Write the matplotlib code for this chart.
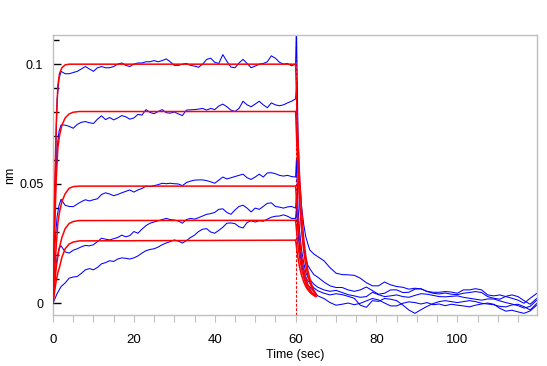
import matplotlib
matplotlib.use("Agg")
import matplotlib.pyplot as plt
from matplotlib.ticker import MultipleLocator

plt.rcParams['font.family'] = ['Liberation Sans', 'DejaVu Sans']

# association phase (0-60 s), one reading per second after the fast rise
t_assoc = [0, 0.5, 1, 1.5] + list(range(2, 61))
assoc1 = [0.001, 0.05, 0.085, 0.094,
          0.097, 0.096, 0.096, 0.0965, 0.097, 0.098, 0.099, 0.098, 0.097, 0.0985,
          0.099, 0.0985, 0.0985, 0.099, 0.1, 0.1005, 0.0995, 0.099, 0.1, 0.1005,
          0.1005, 0.101, 0.101, 0.1015, 0.101, 0.1015, 0.1022, 0.101, 0.0995,
          0.0995, 0.1, 0.1003, 0.0995, 0.0992, 0.0987, 0.1, 0.102, 0.1025, 0.1008,
          0.1003, 0.104, 0.1012, 0.0988, 0.0985, 0.1005, 0.102, 0.1003, 0.0985,
          0.0992, 0.1, 0.1003, 0.101, 0.1035, 0.1025, 0.1008, 0.1, 0.1003, 0.0993, 0.1]
assoc2 = [0.001, 0.04, 0.065, 0.072,
          0.0746, 0.0745, 0.074, 0.0732, 0.0748, 0.0757, 0.076, 0.0755, 0.0752, 0.077,
          0.0784, 0.0768, 0.0777, 0.0767, 0.0775, 0.0785, 0.078, 0.077, 0.0775, 0.079,
          0.0787, 0.081, 0.0798, 0.0793, 0.0802, 0.081, 0.0797, 0.0795, 0.08,
          0.0792, 0.0785, 0.0808, 0.0809, 0.081, 0.0812, 0.0815, 0.0808, 0.0815, 0.081,
          0.0825, 0.0833, 0.0822, 0.0808, 0.0802, 0.0815, 0.0845, 0.083, 0.0822,
          0.0833, 0.0845, 0.083, 0.0818, 0.0838, 0.083, 0.0826, 0.083, 0.0838, 0.0845, 0.0855]
assoc3 = [0.001, 0.025, 0.036, 0.041,
          0.0435, 0.041, 0.0405, 0.0404, 0.0415, 0.0425, 0.0433, 0.0428, 0.0433, 0.0437,
          0.0455, 0.0462, 0.0457, 0.045, 0.0455, 0.0462, 0.0468, 0.0474, 0.0465, 0.0474,
          0.048, 0.049, 0.0488, 0.0492, 0.0496, 0.0502, 0.05, 0.0502, 0.05,
          0.0499, 0.0492, 0.0505, 0.0511, 0.0515, 0.0516, 0.0516, 0.0513, 0.0508, 0.0502,
          0.0515, 0.0528, 0.052, 0.0525, 0.053, 0.0535, 0.054, 0.0525, 0.0518,
          0.0528, 0.054, 0.0528, 0.0545, 0.0546, 0.0542, 0.0535, 0.0532, 0.0535, 0.053, 0.0528]
assoc4 = [0.0, 0.012, 0.019, 0.023,
          0.024, 0.0215, 0.021, 0.0222, 0.0228, 0.0236, 0.0242, 0.024, 0.0245, 0.0258,
          0.0272, 0.0268, 0.0265, 0.027, 0.0275, 0.0285, 0.0278, 0.0283, 0.03, 0.0293,
          0.031, 0.0325, 0.0335, 0.034, 0.0345, 0.035, 0.0355, 0.035, 0.0348,
          0.0344, 0.0335, 0.035, 0.0355, 0.0352, 0.0358, 0.0365, 0.0372, 0.0375, 0.038,
          0.0393, 0.0395, 0.038, 0.0372, 0.039, 0.0405, 0.041, 0.0398, 0.0382,
          0.0398, 0.0393, 0.0405, 0.0418, 0.042, 0.0405, 0.0402, 0.0398, 0.0403, 0.0405, 0.0398]
assoc5 = [0.0, 0.002, 0.004, 0.0055,
          0.007, 0.0085, 0.0105, 0.011, 0.0112, 0.0125, 0.014, 0.0145, 0.014, 0.015,
          0.0165, 0.017, 0.0178, 0.0175, 0.0185, 0.019, 0.0188, 0.0185, 0.019, 0.0198,
          0.021, 0.022, 0.0225, 0.0228, 0.0235, 0.0245, 0.0252, 0.0258, 0.0265,
          0.026, 0.0252, 0.0262, 0.0275, 0.0285, 0.03, 0.031, 0.0312, 0.0298, 0.0293,
          0.0305, 0.0318, 0.0335, 0.0336, 0.0333, 0.032, 0.0315, 0.0338, 0.0345,
          0.034, 0.0345, 0.0343, 0.0352, 0.036, 0.0364, 0.0365, 0.037, 0.0364, 0.0355, 0.0355]

# dissociation phase (60-120 s)
t_dissoc = [60.2, 60.6, 61, 61.5, 62, 62.5, 63, 63.5, 64.5, 65.5,
            67, 68.5, 70, 71.5, 73, 74.5, 76, 77.5, 79, 80.5, 82, 83.5, 85, 86.5,
            88, 89.5, 91, 92.5, 94, 95.5, 97, 98.5, 100, 101.5, 103, 104.5, 106,
            107.5, 109, 110.5, 112, 113.5, 115, 116.5, 118, 119.7]
dissoc1 = [0.116, 0.07, 0.052, 0.04, 0.033, 0.028, 0.025, 0.0223, 0.0206, 0.0195,
           0.0178, 0.0149, 0.0126, 0.012, 0.0119, 0.0117, 0.0105, 0.0086, 0.0073, 0.0073,
           0.0089, 0.0077, 0.007, 0.0067, 0.0059, 0.0063, 0.006, 0.005, 0.0046, 0.0046,
           0.0049, 0.0047, 0.0042, 0.0056, 0.0056, 0.0061, 0.0056, 0.0035, 0.0031, 0.0035,
           0.0028, 0.0021, 0.0013, 0.0, 0.0021, 0.0042]
dissoc2 = [0.09, 0.06, 0.042, 0.03, 0.023, 0.019, 0.016, 0.0145, 0.012, 0.0109,
           0.0089, 0.0073, 0.0066, 0.0066, 0.0056, 0.005, 0.0056, 0.0068, 0.0053, 0.0038,
           0.0042, 0.0056, 0.0056, 0.0045, 0.0046, 0.0059, 0.0061, 0.0049, 0.0042, 0.0039,
           0.0043, 0.0038, 0.0036, 0.0042, 0.0045, 0.0049, 0.0045, 0.0028, 0.0021, 0.0017,
           0.0029, 0.0035, 0.0028, 0.0011, -0.0004, 0.0021]
dissoc3 = [0.06, 0.04, 0.03, 0.022, 0.017, 0.013, 0.011, 0.01, 0.008, 0.0067,
           0.0056, 0.005, 0.0054, 0.0045, 0.0036, 0.0031, 0.0025, 0.0028, 0.0046, 0.0036,
           0.0028, 0.0031, 0.0035, 0.0028, 0.0025, 0.0033, 0.004, 0.0038, 0.0033, 0.0028,
           0.0027, 0.0029, 0.0031, 0.0025, 0.0021, 0.0017, 0.0013, 0.0018, 0.0018, 0.001,
           0.0003, -0.0003, -0.001, -0.002, -0.0013, 0.0014]
dissoc4 = [0.045, 0.032, 0.025, 0.018, 0.014, 0.011, 0.0095, 0.0085, 0.0065, 0.0052,
           0.0042, 0.0035, 0.004, 0.0036, 0.0029, 0.0021, -0.0008, -0.0017, 0.0011, 0.0008,
           0.002, 0.0017, 0.0011, -0.0007, -0.0028, -0.0042, -0.0027, -0.0013, -0.0001, 0.0007,
           0.0011, 0.0007, 0.0003, 0.0007, 0.0011, 0.0007, 0.0, -0.0003, -0.0006, -0.0013,
           -0.0015, -0.0007, -0.0004, -0.0014, -0.0028, 0.0]
dissoc5 = [0.04, 0.03, 0.022, 0.016, 0.012, 0.009, 0.0075, 0.0068, 0.005, 0.0031,
           0.002, 0.0003, -0.0008, -0.0004, 0.0001, -0.0006, 0.0, 0.001, 0.002, 0.0014,
           0.0001, -0.0011, -0.0011, 0.0, 0.0006, 0.0003, -0.0003, 0.0003, -0.0006, -0.0003,
           -0.001, -0.0004, -0.0008, -0.0011, -0.0015, -0.0008, -0.0003, 0.0001, -0.0004, -0.0021,
           -0.0033, -0.0029, -0.0036, -0.0042, -0.0032, -0.0007]

# fitted curves
fit_t_assoc = [0, 0.4, 0.8, 1.2, 1.6, 2.2, 3, 4, 5, 6.5, 60]
fit_assoc1 = [0, 0.045, 0.075, 0.091, 0.096, 0.0985, 0.0997, 0.1, 0.1, 0.1, 0.1]
fit_assoc2 = [0, 0.03, 0.052, 0.065, 0.070, 0.0745, 0.0775, 0.0792, 0.0799, 0.0802, 0.0802]
fit_assoc3 = [0, 0.013, 0.024, 0.0335, 0.038, 0.0425, 0.0458, 0.0481, 0.0488, 0.049, 0.049]
fit_assoc4 = [0, 0.008, 0.015, 0.0198, 0.0233, 0.0275, 0.0312, 0.0334, 0.0342, 0.0346, 0.0347]
fit_assoc5 = [0, 0.005, 0.0095, 0.0128, 0.015, 0.0192, 0.0228, 0.0248, 0.0256, 0.0261, 0.0264]

fit_t_dissoc = [60, 60.5, 61, 61.5, 62, 62.5, 63, 63.5, 64, 64.5, 65]
fit_dissoc1 = [0.1, 0.072, 0.052, 0.038, 0.027, 0.02, 0.014, 0.0105, 0.0075, 0.0055, 0.004]
fit_dissoc2 = [0.0802, 0.058, 0.042, 0.031, 0.022, 0.016, 0.0118, 0.0088, 0.0065, 0.0048, 0.0036]
fit_dissoc3 = [0.049, 0.036, 0.026, 0.019, 0.0142, 0.0105, 0.008, 0.006, 0.0046, 0.0036, 0.003]
fit_dissoc4 = [0.0347, 0.0255, 0.019, 0.0143, 0.011, 0.0083, 0.0064, 0.005, 0.004, 0.0033, 0.0028]
fit_dissoc5 = [0.0264, 0.0198, 0.015, 0.0115, 0.009, 0.007, 0.0057, 0.0047, 0.004, 0.0035, 0.0031]

assoc = [assoc1, assoc2, assoc3, assoc4, assoc5]
dissoc = [dissoc1, dissoc2, dissoc3, dissoc4, dissoc5]
fit_assoc = [fit_assoc1, fit_assoc2, fit_assoc3, fit_assoc4, fit_assoc5]
fit_dissoc = [fit_dissoc1, fit_dissoc2, fit_dissoc3, fit_dissoc4, fit_dissoc5]

fig = plt.figure(figsize=(5.47, 3.66), dpi=100)
ax = fig.add_axes([53 / 547, 1 - 315 / 366, 484 / 547, 280 / 366])

ax.axvline(60, color='#ff0000', lw=0.8, dashes=(2.5, 1.5), zorder=1)

for a, d, fa, fd in zip(assoc, dissoc, fit_assoc, fit_dissoc):
    ax.plot(t_assoc + t_dissoc, a + d, color='#0000ff', lw=0.75, zorder=2)
    ax.plot(fit_t_assoc, fa, color='#ff0000', lw=1.1, zorder=3)
    ax.plot(fit_t_dissoc, fd, color='#ff0000', lw=1.1, zorder=3)

ax.set_xlim(0, 119.7)
ax.set_ylim(-0.0049, 0.1122)

for s in ax.spines.values():
    s.set_color('#c0c0c0')
    s.set_linewidth(1)

ax.xaxis.set_major_locator(MultipleLocator(20))
ax.xaxis.set_minor_locator(MultipleLocator(5))
ax.tick_params(axis='x', which='both', direction='out', length=5, width=0.8,
               color='#c0c0c0', labelsize=9.5, pad=9)

ax.set_yticks([0, 0.05, 0.1], labels=['0', '0.05', '0.1'])
ax.yaxis.set_minor_locator(MultipleLocator(0.01))
ax.tick_params(axis='y', which='major', direction='in', length=6, width=1,
               color='black', labelsize=9, pad=7)
ax.tick_params(axis='y', which='minor', direction='in', length=4.5, width=1, color='black')

ax.set_xlabel('Time (sec)', fontsize=9, labelpad=2)
ax.set_ylabel('nm', fontsize=9, labelpad=2)

fig.savefig('out.png', dpi=100)
